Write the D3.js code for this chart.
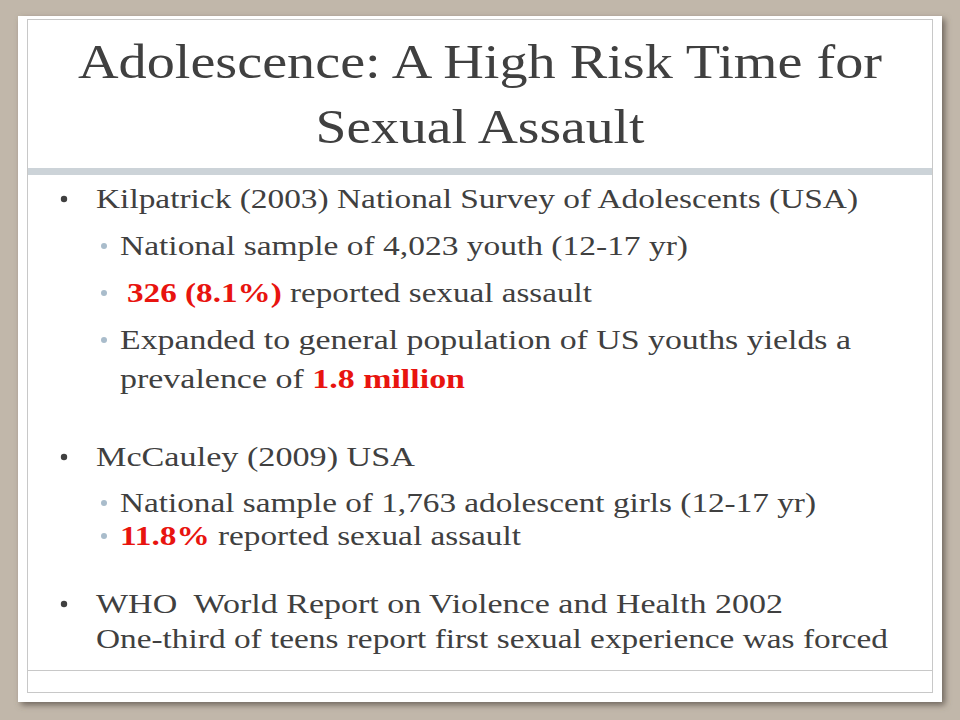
<!DOCTYPE html>
<html><head><meta charset="utf-8">
<script src="https://cdn.jsdelivr.net/npm/d3@7"></script>
<style>body{margin:0;background:#c1b7aa}</style>
</head><body>
<script>
// slide content
var titleLines = ['Adolescence: A High Risk Time for', 'Sexual Assault']
var titleWidths = [804, 329]
// each line: level (1 top, 2 sub, 0 continuation), baseline, width, parts [text, red?]
var bodyLevels = [1, 2, 2, 2, 0, 1, 2, 2, 1, 0]
var bodyBaselines = [208, 255, 302, 349, 388, 466, 512, 545, 613, 648]
var bodyIndents = [96, 120, 127, 120, 120, 96, 120, 120, 96, 96]
var bodyWidths = [762, 568, 465, 731, 345, 319, 696, 401, 687, 792]
var bodyParts = [
  [['Kilpatrick (2003) National Survey of Adolescents (USA)', 0]],
  [['National sample of 4,023 youth (12-17 yr)', 0]],
  [['326 (8.1%)', 1], [' reported sexual assault', 0]],
  [['Expanded to general population of US youths yields a', 0]],
  [['prevalence of ', 0], ['1.8 million', 1]],
  [['McCauley (2009) USA', 0]],
  [['National sample of 1,763 adolescent girls (12-17 yr)', 0]],
  [['11.8%', 1], [' reported sexual assault', 0]],
  [['WHO  World Report on Violence and Health 2002', 0]],
  [['One-third of teens report first sexual experience was forced', 0]]
]

var svg = d3.select('body').append('svg').attr('width', 960).attr('height', 720)
var defs = svg.append('defs')
var f = defs.append('filter').attr('id', 'sh').attr('x', '-5%').attr('y', '-5%').attr('width', '110%').attr('height', '110%')
f.append('feDropShadow').attr('dx', 3).attr('dy', 3).attr('stdDeviation', 3).attr('flood-color', '#5a5148').attr('flood-opacity', 0.8)

svg.append('rect').attr('width', 960).attr('height', 720).attr('fill', '#c1b7aa')
svg.append('rect').attr('x', 18).attr('y', 16).attr('width', 924).attr('height', 686)
  .attr('fill', '#fff').attr('filter', 'url(#sh)')
svg.append('rect').attr('x', 27.5).attr('y', 19.5).attr('width', 905).attr('height', 673)
  .attr('fill', 'none').attr('stroke', '#c8c8c8')
svg.append('rect').attr('x', 28).attr('y', 168).attr('width', 904).attr('height', 7).attr('fill', '#ccd3d8')
svg.append('line').attr('x1', 28).attr('x2', 932).attr('y1', 670.5).attr('y2', 670.5).attr('stroke', '#c8c8c8')

svg.selectAll('text.title').data(titleLines).enter().append('text')
  .attr('class', 'title')
  .attr('x', 480).attr('y', function(d, i) { return 78 + i * 65 })
  .attr('text-anchor', 'middle')
  .attr('font-family', 'Liberation Serif, serif').attr('font-size', 48)
  .attr('fill', '#404040')
  .attr('textLength', function(d, i) { return titleWidths[i] })
  .attr('lengthAdjust', 'spacingAndGlyphs')
  .text(function(d) { return d })

var lines = svg.selectAll('g.line').data(bodyParts).enter().append('g').attr('class', 'line')
lines.each(function(parts, i) {
  var g = d3.select(this), lvl = bodyLevels[i], y = bodyBaselines[i]
  if (lvl === 1) {
    g.append('circle').attr('cx', 64).attr('cy', y - 9).attr('r', 3.2).attr('fill', '#404040')
  } else if (lvl === 2) {
    g.append('circle').attr('cx', 104).attr('cy', y - 9).attr('r', 3).attr('fill', '#a9bccb')
  }
  var t = g.append('text').attr('x', bodyIndents[i]).attr('y', y)
    .attr('font-family', 'Liberation Serif, serif').attr('font-size', 27)
    .attr('fill', '#404040')
    .attr('textLength', bodyWidths[i]).attr('lengthAdjust', 'spacingAndGlyphs')
    .style('white-space', 'pre')
  parts.forEach(function(p) {
    t.append('tspan').text(p[0])
      .attr('fill', p[1] ? '#e8140f' : null)
      .attr('font-weight', p[1] ? 'bold' : null)
  })
})
</script>
</body></html>
